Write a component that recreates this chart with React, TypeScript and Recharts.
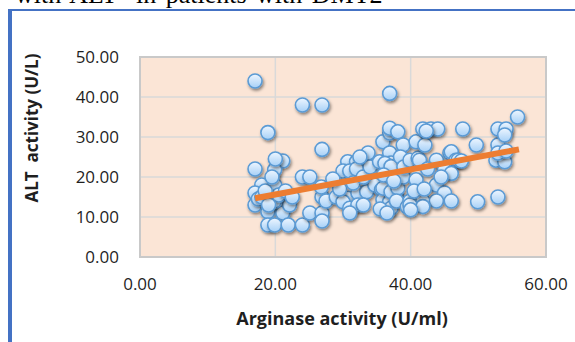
import React from 'react';
import {
  ScatterChart,
  Scatter,
  XAxis,
  YAxis,
  CartesianGrid,
  ReferenceArea,
} from 'recharts';

// arginase activity (U/ml)
const arginase: number[] = [
  17.0, 24.0, 26.9, 18.9, 26.9, 17.0, 21.1, 19.9, 18.0, 19.9, 24.0, 25.1, 17.0, 17.0, 17.5,
  18.9, 21.1, 22.1, 18.9, 19.9, 21.9, 24.0, 25.1, 26.9, 26.9, 26.9, 19.9, 18.0, 20.5, 19.0,
  21.5, 18.5, 20.0, 19.5, 22.5,
  26.8, 27.5, 29.0, 30.7, 32.2, 33.5, 30.0, 31.0, 32.2, 30.7, 32.0, 30.0, 31.0, 32.0, 33.7,
  34.7, 33.0, 31.0, 29.5, 31.5, 33.0, 34.0, 28.5, 32.5,
  35.9, 36.9, 36.9, 38.1, 35.4, 36.9, 37.1, 36.2, 37.1, 35.7, 35.9, 36.9, 37.1, 37.9, 35.9,
  37.1, 38.1, 36.9, 38.9, 38.9, 37.9, 38.5, 36.0, 37.5, 39.0, 35.5, 36.5, 39.5,
  39.9, 41.1, 41.3, 40.8, 42.1, 41.8, 43.0, 44.0, 42.3, 43.8, 45.8, 46.0, 46.7, 47.0, 40.8,
  43.8, 45.0, 45.0, 46.0, 39.9, 41.8, 43.8, 46.0, 39.9, 41.8, 40.0, 42.5, 44.5, 40.5, 42.0,
  47.7, 49.7, 52.9, 52.9, 54.1, 53.9, 52.6, 53.9, 52.9, 54.1, 55.8, 49.9, 52.9, 47.5,
];

// ALT activity (U/L)
const alt: number[] = [
  44.0, 38.0, 38.0, 31.1, 26.9, 22.0, 24.0, 21.8, 18.0, 18.0, 20.0, 20.0, 16.0, 13.0, 14.5,
  11.3, 11.0, 13.0, 8.0, 8.0, 8.0, 8.0, 11.0, 11.0, 9.0, 15.0, 14.0, 15.0, 15.5, 13.0,
  16.5, 16.5, 24.5, 20.0, 15.0,
  17.5, 14.0, 15.0, 14.7, 16.0, 16.3, 13.8, 12.2, 13.0, 23.8, 23.8, 21.5, 21.5, 22.0, 26.0,
  18.0, 13.0, 11.0, 17.0, 18.5, 20.0, 22.5, 19.5, 25.0,
  28.8, 31.0, 32.2, 31.3, 23.8, 26.0, 23.5, 23.4, 22.6, 16.8, 14.3, 13.8, 12.2, 15.1, 17.2,
  16.3, 17.2, 40.9, 28.0, 20.0, 14.0, 25.0, 20.5, 19.0, 22.5, 12.0, 11.0, 12.5,
  24.2, 24.7, 24.2, 28.8, 28.0, 32.0, 32.0, 32.0, 31.5, 24.2, 26.0, 26.3, 24.2, 24.2, 19.3,
  18.0, 16.0, 21.8, 20.9, 14.0, 14.0, 14.0, 14.0, 13.0, 12.6, 11.8, 22.0, 20.0, 16.5, 17.0,
  32.0, 28.0, 28.0, 32.0, 32.0, 30.5, 24.2, 23.8, 26.0, 26.5, 35.0, 13.8, 15.0, 24.0,
];

// linear trend line end points
const trendX: number[] = [17.0, 56.0];
const trendY: number[] = [14.7, 26.9];

const xTicks: number[] = [0, 20, 40, 60];
const yTicks: number[] = [0, 10, 20, 30, 40, 50];

const points = arginase.map((x, i) => ({ x, y: alt[i] }));
const trend = trendX.map((x, i) => ({ x, y: trendY[i] }));

const tickFont = { fontFamily: '"Open Sans", sans-serif', fontSize: 17, fill: '#1f1f1f' };

const Bubble = (props: any) => {
  const { cx, cy } = props;
  if (cx == null || cy == null) return <g />;
  return (
    <circle
      cx={cx}
      cy={cy}
      r={7}
      fill="url(#ptFill)"
      stroke="#5B9BD5"
      strokeWidth={1.6}
      filter="url(#ptShadow)"
    />
  );
};

const NoDot = () => <g />;

const App: React.FC = () => {
  return (
    <div
      style={{
        position: 'absolute',
        left: 0,
        top: 0,
        width: 575,
        height: 342,
        overflow: 'hidden',
        background: '#fff',
      }}
    >
      {/* caption line of the page, cut by the top edge like in the source */}
      <div
        style={{
          position: 'absolute',
          left: 15,
          top: -18,
          fontFamily: '"Liberation Serif", serif',
          fontSize: 26,
          lineHeight: '26px',
          whiteSpace: 'pre',
          color: '#000',
          wordSpacing: 3,
        }}
      >
        with ALT  in patients with DMT2
      </div>
      {/* blue frame */}
      <div
        style={{
          position: 'absolute',
          left: 8,
          top: 9,
          width: 575,
          height: 400,
          borderLeft: '4px solid #4472C4',
          borderTop: '2.5px solid #4472C4',
        }}
      />
      <div style={{ position: 'absolute', left: 0, top: 0 }}>
        <ScatterChart width={575} height={342} margin={{ top: 57, right: 29, bottom: 45, left: 70 }}>
          <defs>
            <linearGradient id="ptFill" x1="0" y1="0" x2="0" y2="1">
              <stop offset="0%" stopColor="#EEF6FF" />
              <stop offset="100%" stopColor="#A6D0F7" />
            </linearGradient>
            <filter id="ptShadow" x="-50%" y="-50%" width="200%" height="200%">
              <feDropShadow dx="1.2" dy="2" stdDeviation="1.4" floodColor="#000" floodOpacity="0.45" />
            </filter>
          </defs>
          <CartesianGrid fill="#FBE5D6" stroke="#D9D9D9" strokeWidth={1.5} />
          <ReferenceArea x1={0} x2={60} y1={0} y2={50} fill="none" stroke="#C9C9C9" strokeWidth={2} />
          <XAxis
            type="number"
            dataKey="x"
            domain={[0, 60]}
            ticks={xTicks}
            axisLine={false}
            tickLine={false}
            tickSize={0}
            tickMargin={21}
            height={40}
            tick={tickFont}
            tickFormatter={(v: number) => v.toFixed(2)}
          />
          <YAxis
            type="number"
            dataKey="y"
            domain={[0, 50]}
            ticks={yTicks}
            axisLine={false}
            tickLine={false}
            tickSize={0}
            tickMargin={21}
            width={70}
            tick={tickFont}
            tickFormatter={(v: number) => v.toFixed(2)}
          />
          <Scatter data={points} shape={Bubble} isAnimationActive={false} />
          <Scatter
            data={trend}
            shape={NoDot}
            line={{ stroke: '#ED7D31', strokeWidth: 6 }}
            isAnimationActive={false}
          />
        </ScatterChart>
      </div>
      {/* axis titles */}
      <div
        style={{
          position: 'absolute',
          left: 342,
          top: 318,
          transform: 'translate(-50%, -50%)',
          fontFamily: '"Open Sans", sans-serif',
          fontWeight: 700,
          fontSize: 18,
          whiteSpace: 'pre',
          color: '#1f1f1f',
        }}
      >
        Arginase activity (U/ml)
      </div>
      <div
        style={{
          position: 'absolute',
          left: 31,
          top: 128,
          transform: 'translate(-50%, -50%) rotate(-90deg)',
          fontFamily: '"Open Sans", sans-serif',
          fontWeight: 700,
          fontSize: 17,
          whiteSpace: 'pre',
          color: '#1f1f1f',
        }}
      >
        ALT  activity (U/L)
      </div>
    </div>
  );
};

export default App;
